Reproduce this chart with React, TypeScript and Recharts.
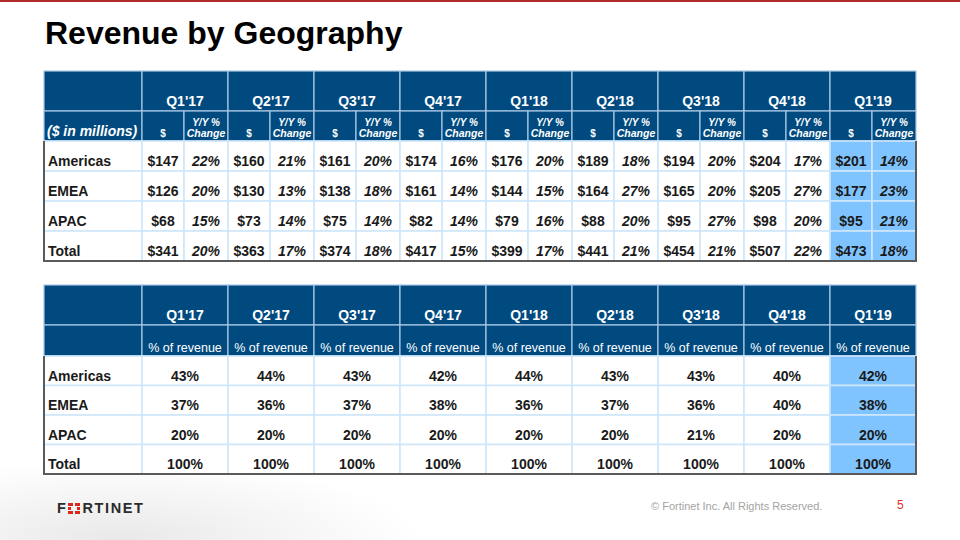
import React from 'react';
import { ScatterChart, Scatter, XAxis, YAxis } from 'recharts';

// ---------- data ----------
const quarters = ["Q1'17", "Q2'17", "Q3'17", "Q4'17", "Q1'18", "Q2'18", "Q3'18", "Q4'18", "Q1'19"];
const regions = ['Americas', 'EMEA', 'APAC', 'Total'];

const revenueAmericas = [147, 160, 161, 174, 176, 189, 194, 204, 201];
const revenueEMEA = [126, 130, 138, 161, 144, 164, 165, 205, 177];
const revenueAPAC = [68, 73, 75, 82, 79, 88, 95, 98, 95];
const revenueTotal = [341, 363, 374, 417, 399, 441, 454, 507, 473];

const yoyAmericas = [22, 21, 20, 16, 20, 18, 20, 17, 14];
const yoyEMEA = [20, 13, 18, 14, 15, 27, 20, 27, 23];
const yoyAPAC = [15, 14, 14, 14, 16, 20, 27, 20, 21];
const yoyTotal = [20, 17, 18, 15, 17, 21, 21, 22, 18];

const shareAmericas = [43, 44, 43, 42, 44, 43, 43, 40, 42];
const shareEMEA = [37, 36, 37, 38, 36, 37, 36, 40, 38];
const shareAPAC = [20, 20, 20, 20, 20, 20, 21, 20, 20];
const shareTotal = [100, 100, 100, 100, 100, 100, 100, 100, 100];

const revenueRows = [revenueAmericas, revenueEMEA, revenueAPAC, revenueTotal];
const yoyRows = [yoyAmericas, yoyEMEA, yoyAPAC, yoyTotal];
const shareRows = [shareAmericas, shareEMEA, shareAPAC, shareTotal];

// ---------- layout ----------
const FONT = '"Liberation Sans", Arial, Helvetica, sans-serif';
const HDR_BG = '#004a80';
const HDR_LINE = '#a9c9e6';
const GRID = '#cfe6fb';
const FRAME = '#5a5a5a';
const HILITE = '#80c4ff';
const INK = '#1a1a1a';

type Cell = {
  x: number; y: number; w: number; h: number;
  kind: string; lines: string[];
  firstCol: boolean; lastCol: boolean; lastRow: boolean; data: boolean; hi: boolean;
};

function makeCell(colW: number[], rowH: number[], c: number, cs: number, r: number,
  kind: string, lines: string[], hi = false): Cell {
  const x0 = colW.slice(0, c).reduce((a, b) => a + b, 0);
  const w = colW.slice(c, c + cs).reduce((a, b) => a + b, 0);
  const y0 = rowH.slice(0, r).reduce((a, b) => a + b, 0);
  const h = rowH[r];
  return {
    x: x0 + w / 2, y: y0 + h / 2, w, h, kind, lines,
    firstCol: c === 0, lastCol: c + cs === colW.length, lastRow: r === rowH.length - 1,
    data: r >= 2, hi,
  };
}

const t1Cols = [98, ...quarters.flatMap(() => [42, 44])];
const t1Rows = [40, 30, 30, 30, 30, 30];
const t2Cols = [98, ...quarters.map(() => 86)];
const t2Rows = [40, 31, 29.5, 29.5, 29.5, 29.5];

function buildTable1(): Cell[] {
  const cells: Cell[] = [];
  cells.push(makeCell(t1Cols, t1Rows, 0, 1, 0, 'blank', []));
  quarters.forEach((q, i) => cells.push(makeCell(t1Cols, t1Rows, 1 + 2 * i, 2, 0, 'qHdr', [q])));
  cells.push(makeCell(t1Cols, t1Rows, 0, 1, 1, 'unitHdr', ['($ in millions)']));
  quarters.forEach((q, i) => {
    cells.push(makeCell(t1Cols, t1Rows, 1 + 2 * i, 1, 1, 'dollarHdr', ['$']));
    cells.push(makeCell(t1Cols, t1Rows, 2 + 2 * i, 1, 1, 'yoyHdr', ['Y/Y %', 'Change']));
  });
  regions.forEach((reg, r) => {
    cells.push(makeCell(t1Cols, t1Rows, 0, 1, 2 + r, 'label', [reg]));
    quarters.forEach((q, i) => {
      const hi = i === quarters.length - 1;
      cells.push(makeCell(t1Cols, t1Rows, 1 + 2 * i, 1, 2 + r, 'val', ['$' + revenueRows[r][i]], hi));
      cells.push(makeCell(t1Cols, t1Rows, 2 + 2 * i, 1, 2 + r, 'valI', [yoyRows[r][i] + '%'], hi));
    });
  });
  return cells;
}

function buildTable2(): Cell[] {
  const cells: Cell[] = [];
  cells.push(makeCell(t2Cols, t2Rows, 0, 1, 0, 'blank', []));
  quarters.forEach((q, i) => cells.push(makeCell(t2Cols, t2Rows, 1 + i, 1, 0, 'qHdr', [q])));
  cells.push(makeCell(t2Cols, t2Rows, 0, 1, 1, 'blank', []));
  quarters.forEach((q, i) => cells.push(makeCell(t2Cols, t2Rows, 1 + i, 1, 1, 'pctHdr', ['% of revenue'])));
  regions.forEach((reg, r) => {
    cells.push(makeCell(t2Cols, t2Rows, 0, 1, 2 + r, 'label', [reg]));
    quarters.forEach((q, i) => {
      cells.push(makeCell(t2Cols, t2Rows, 1 + i, 1, 2 + r, 'val', [shareRows[r][i] + '%'], i === quarters.length - 1));
    });
  });
  return cells;
}

const table1 = buildTable1();
const table2 = buildTable2();

// ---------- shapes ----------
const BgShape = (props: any) => {
  const { cx, cy, payload } = props;
  const p = payload as Cell;
  const fill = p.data ? (p.hi ? HILITE : '#ffffff') : HDR_BG;
  const stroke = p.data ? GRID : HDR_LINE;
  return (
    <rect x={cx - p.w / 2} y={cy - p.h / 2} width={p.w} height={p.h}
      fill={fill} stroke={stroke} strokeWidth={p.data ? 1.6 : 1.2} />
  );
};

const FrameShape = (props: any) => {
  const { cx, cy, payload } = props;
  const p = payload as Cell;
  if (!p.data) return <g />;
  const x0 = cx - p.w / 2, x1 = cx + p.w / 2, y0 = cy - p.h / 2, y1 = cy + p.h / 2;
  return (
    <g>
      {p.firstCol && <line x1={x0} y1={y0} x2={x0} y2={y1 + 1} stroke={FRAME} strokeWidth={2} />}
      {p.lastCol && <line x1={x1} y1={y0} x2={x1} y2={y1 + 1} stroke={FRAME} strokeWidth={2} />}
      {p.lastRow && <line x1={x0 - 1} y1={y1} x2={x1 + 1} y2={y1} stroke={FRAME} strokeWidth={2} />}
    </g>
  );
};

const TextShape = (props: any) => {
  const { cx, cy, payload } = props;
  const p = payload as Cell;
  const base = { fontFamily: FONT, dominantBaseline: 'central' as const };
  switch (p.kind) {
    case 'qHdr':
      return <text x={cx} y={cy + 10} textAnchor="middle" fill="#fff" fontSize={14} fontWeight="bold" {...base}>{p.lines[0]}</text>;
    case 'unitHdr':
      return <text x={cx - p.w / 2 + 3} y={cy + 5} textAnchor="start" fill="#fff" fontSize={14} fontWeight="bold" fontStyle="italic" {...base}>{p.lines[0]}</text>;
    case 'dollarHdr':
      return <text x={cx} y={cy + 7} textAnchor="middle" fill="#fff" fontSize={10} fontWeight="bold" {...base}>{p.lines[0]}</text>;
    case 'yoyHdr':
      return (
        <g>
          <text x={cx} y={cy - 4} textAnchor="middle" fill="#fff" fontSize={10} fontWeight="bold" fontStyle="italic" {...base}>{p.lines[0]}</text>
          <text x={cx} y={cy + 7} textAnchor="middle" fill="#fff" fontSize={10.5} fontWeight="bold" fontStyle="italic" {...base}>{p.lines[1]}</text>
        </g>
      );
    case 'pctHdr':
      return <text x={cx} y={cy + 7.5} textAnchor="middle" fill="#fff" fontSize={12.5} {...base}>{p.lines[0]}</text>;
    case 'label':
      return <text x={cx - p.w / 2 + 4} y={cy + 5} textAnchor="start" fill={INK} fontSize={14} fontWeight="bold" {...base}>{p.lines[0]}</text>;
    case 'val':
      return <text x={cx} y={cy + 5} textAnchor="middle" fill={INK} fontSize={14} fontWeight="bold" {...base}>{p.lines[0]}</text>;
    case 'valI':
      return <text x={cx} y={cy + 5} textAnchor="middle" fill={INK} fontSize={14} fontWeight="bold" fontStyle="italic" {...base}>{p.lines[0]}</text>;
    default:
      return <g />;
  }
};

function TableChart({ cells, colW, rowH, left, top }: { cells: Cell[]; colW: number[]; rowH: number[]; left: number; top: number }) {
  const W = colW.reduce((a, b) => a + b, 0);
  const H = rowH.reduce((a, b) => a + b, 0);
  const m = 3;
  return (
    <div style={{ position: 'absolute', left: left - m, top: top - m }}>
      <ScatterChart width={W + 2 * m} height={H + 2 * m} margin={{ top: m, right: m, bottom: m, left: m }}>
        <XAxis type="number" dataKey="x" domain={[0, W]} hide />
        <YAxis type="number" dataKey="y" domain={[0, H]} reversed hide />
        <Scatter data={cells} shape={BgShape} isAnimationActive={false} />
        <Scatter data={cells} shape={FrameShape} isAnimationActive={false} />
        <Scatter data={cells} shape={TextShape} isAnimationActive={false} />
      </ScatterChart>
    </div>
  );
}

const Logo = () => (
  <div style={{ position: 'absolute', left: 57, top: 500, display: 'flex', alignItems: 'center',
    fontFamily: FONT, fontWeight: 'bold', fontSize: 14.5, color: '#2b2b2b', letterSpacing: 1.6, lineHeight: '16px' }}>
    <span>F</span>
    <svg width={12} height={11} style={{ margin: '0 2px 0 1px' }}>
      <rect x={0} y={0} width={5} height={3} fill="#da291c" />
      <rect x={7} y={0} width={5} height={3} fill="#da291c" />
      <rect x={0} y={4} width={3} height={3} fill="#da291c" />
      <rect x={9} y={4} width={3} height={3} fill="#da291c" />
      <rect x={0} y={8} width={5} height={3} fill="#da291c" />
      <rect x={7} y={8} width={5} height={3} fill="#da291c" />
    </svg>
    <span>RTINET</span>
  </div>
);

export default function App() {
  return (
    <div style={{ position: 'fixed', left: 0, top: 0, width: 960, height: 540, background: '#fff', overflow: 'hidden', fontFamily: FONT }}>
      <div style={{ position: 'absolute', left: 0, top: 440, width: 960, height: 100,
        background: 'radial-gradient(ellipse 300px 80px at 120px 100px, rgba(225,225,225,0.75), rgba(255,255,255,0))' }} />
      <div style={{ position: 'absolute', left: 0, top: 0, width: 960, height: 1.5, background: '#b22a2a' }} />
      <div style={{ position: 'absolute', left: 45, top: 12, fontSize: 32, fontWeight: 'bold', color: '#000', lineHeight: '42px' }}>
        Revenue by Geography
      </div>
      <TableChart cells={table1} colW={t1Cols} rowH={t1Rows} left={44} top={71} />
      <TableChart cells={table2} colW={t2Cols} rowH={t2Rows} left={44} top={285} />
      <Logo />
      <div style={{ position: 'absolute', left: 651, top: 500, fontSize: 11, color: '#a3a3a3' }}>
        © Fortinet Inc. All Rights Reserved.
      </div>
      <div style={{ position: 'absolute', left: 897, top: 498, fontSize: 12, color: '#e0322b' }}>5</div>
    </div>
  );
}
